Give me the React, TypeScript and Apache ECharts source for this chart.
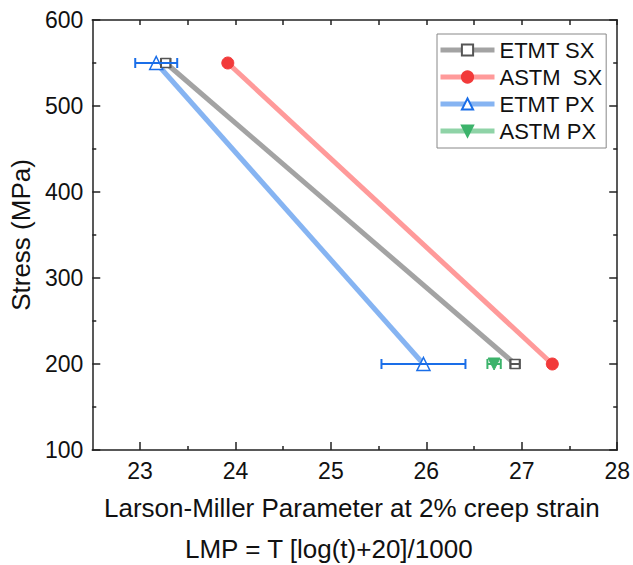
import React, { useEffect, useRef } from "react";
import * as echarts from "echarts";

const xMin = 22.5;
const xMax = 28;
const xMajorTicks = [23, 24, 25, 26, 27, 28];
const xMinorTicks = [23.5, 24.5, 25.5, 26.5, 27.5];
const yMin = 100;
const yMax = 600;

const seriesNames = ["ETMT SX", "ASTM  SX", "ETMT PX", "ASTM PX"];
const xTitle = "Larson-Miller Parameter at 2% creep strain";
const xSubtitle = "LMP = T [log(t)+20]/1000";
const yTitle = "Stress (MPa)";

// [LMP, stress]
const etmtSX = [[23.27, 550], [26.93, 200]];
const astmSX = [[23.92, 550], [27.32, 200]];
const etmtPX = [[23.17, 550], [25.97, 200]];
const astmPX = [[26.71, 200]];

// [LMP, stress, low, high]
const etmtSXErr = [[23.27, 550, 23.22, 23.32], [26.93, 200, 26.88, 26.98]];
const etmtPXErr = [[23.17, 550, 22.95, 23.39], [25.97, 200, 25.53, 26.41]];
const astmPXErr = [[26.71, 200, 26.64, 26.78]];

const FONT = "'Liberation Sans', Arial, sans-serif";
const AXIS_COLOR = "#222";
const TEXT_COLOR = "#111";

function errorSeries(data: number[][], color: string) {
  return {
    type: "custom",
    xAxisIndex: 0,
    yAxisIndex: 0,
    z: 3,
    silent: true,
    data,
    encode: { x: 0, y: 1 },
    renderItem: (params: any, api: any) => {
      const y = api.value(1);
      const lo = api.coord([api.value(2), y]);
      const hi = api.coord([api.value(3), y]);
      const cap = 5;
      const style = { stroke: color, lineWidth: 2 };
      return {
        type: "group",
        children: [
          { type: "line", shape: { x1: lo[0], y1: lo[1], x2: hi[0], y2: hi[1] }, style },
          { type: "line", shape: { x1: lo[0], y1: lo[1] - cap, x2: lo[0], y2: lo[1] + cap }, style },
          { type: "line", shape: { x1: hi[0], y1: hi[1] - cap, x2: hi[0], y2: hi[1] + cap }, style },
        ],
      };
    },
  };
}

function xAxisDef(position: string, ticks: number[], len: number, showLine: boolean, showLabel: boolean) {
  return {
    type: "value",
    position,
    min: xMin,
    max: xMax,
    interval: 0.5,
    splitLine: { show: false },
    axisLine: { show: showLine, onZero: false, lineStyle: { color: AXIS_COLOR, width: 1.5 } },
    axisTick: { show: true, inside: true, length: len, customValues: ticks, lineStyle: { color: AXIS_COLOR, width: 1.5 } },
    axisLabel: showLabel
      ? { show: true, customValues: xMajorTicks, fontSize: 23, color: TEXT_COLOR, fontFamily: FONT, margin: 9 }
      : { show: false },
  };
}

function yAxisDef(position: string, showLabel: boolean, extra: any = {}) {
  return {
    type: "value",
    position,
    min: yMin,
    max: yMax,
    interval: 100,
    splitLine: { show: false },
    axisLine: { show: true, onZero: false, lineStyle: { color: AXIS_COLOR, width: 1.5 } },
    axisTick: { show: true, inside: true, length: 8, lineStyle: { color: AXIS_COLOR, width: 1.5 } },
    minorTick: { show: true, splitNumber: 2, length: 4, lineStyle: { color: AXIS_COLOR, width: 1.5 } },
    axisLabel: showLabel
      ? { show: true, fontSize: 23, color: TEXT_COLOR, fontFamily: FONT, margin: 9 }
      : { show: false },
    ...extra,
  };
}

export default function App() {
  const ref = useRef<HTMLDivElement>(null);

  useEffect(() => {
    if (!ref.current) return;
    const chart = echarts.init(ref.current, null, { renderer: "svg" });
    const option: any = {
      animation: false,
      backgroundColor: "#fff",
      textStyle: { fontFamily: FONT },
      grid: { left: 87, right: 12, top: 20, bottom: 115, containLabel: false },
      legend: {
        data: seriesNames,
        orient: "vertical",
        left: 437,
        top: 34,
        padding: [5, 4, 6, 1],
        itemWidth: 54,
        itemHeight: 14,
        itemGap: 5,
        borderColor: "#888",
        borderWidth: 1,
        borderRadius: 0,
        lineStyle: { width: 5 },
        textStyle: { fontSize: 22, color: TEXT_COLOR, fontFamily: FONT, lineHeight: 22 },
      },
      graphic: [
        {
          type: "text",
          left: 104,
          top: 495,
          style: { text: xTitle, fontSize: 26, fill: TEXT_COLOR, fontFamily: FONT },
        },
        {
          type: "text",
          left: 185,
          top: 536,
          style: { text: xSubtitle, fontSize: 26, fill: TEXT_COLOR, fontFamily: FONT },
        },
      ],
      xAxis: [
        xAxisDef("bottom", xMajorTicks, 8, true, true),
        xAxisDef("bottom", xMinorTicks, 4, false, false),
        xAxisDef("top", xMajorTicks, 5, true, false),
        xAxisDef("top", xMinorTicks, 5, false, false),
      ],
      yAxis: [
        yAxisDef("left", true, {
          name: yTitle,
          nameLocation: "middle",
          nameGap: 50,
          nameTextStyle: { fontSize: 26, color: TEXT_COLOR, fontFamily: FONT },
        }),
        yAxisDef("right", false),
      ],
      series: [
        {
          name: seriesNames[0],
          type: "line",
          data: etmtSX,
          z: 2,
          lineStyle: { color: "#a3a3a3", width: 5 },
          itemStyle: { color: "#fff", borderColor: "#555", borderWidth: 1.5 },
          symbol: "rect",
          symbolSize: 9,
        },
        {
          name: seriesNames[1],
          type: "line",
          data: astmSX,
          z: 2,
          lineStyle: { color: "#ff9a9a", width: 5 },
          itemStyle: { color: "#f23a3a", borderColor: "#f23a3a", borderWidth: 1 },
          symbol: "circle",
          symbolSize: 12,
        },
        {
          name: seriesNames[2],
          type: "line",
          data: etmtPX,
          z: 2,
          lineStyle: { color: "#86b4f2", width: 5 },
          itemStyle: { color: "#fff", borderColor: "#1a6ee8", borderWidth: 1.5 },
          symbol: "triangle",
          symbolSize: 13,
        },
        {
          name: seriesNames[3],
          type: "line",
          data: astmPX,
          z: 2,
          lineStyle: { color: "#8fd3a7", width: 5 },
          itemStyle: { color: "#3cb36b", borderColor: "#3cb36b", borderWidth: 1 },
          symbol: "triangle",
          symbolRotate: 180,
          symbolSize: 12,
        },
        errorSeries(etmtSXErr, "#555"),
        errorSeries(etmtPXErr, "#1a6ee8"),
        errorSeries(astmPXErr, "#3cb36b"),
      ],
    };
    chart.setOption(option);
    return () => chart.dispose();
  }, []);

  return (
    <div
      ref={ref}
      style={{ position: "absolute", left: 0, top: 0, width: 633, height: 565, background: "#fff" }}
    />
  );
}
